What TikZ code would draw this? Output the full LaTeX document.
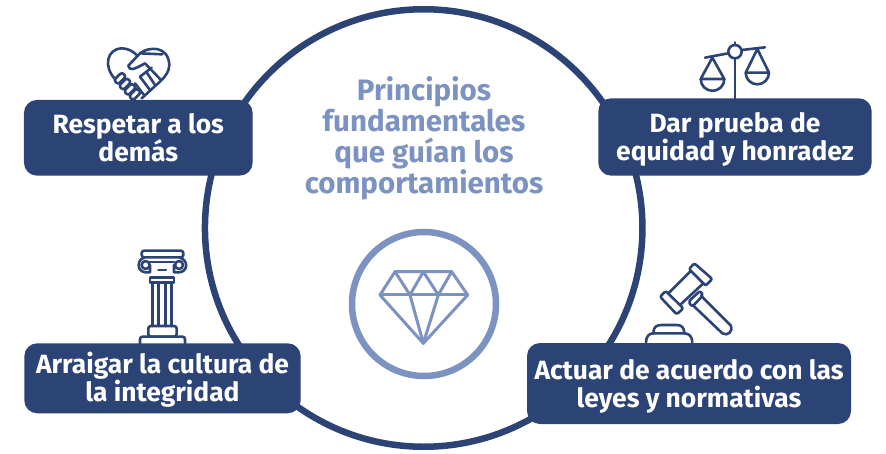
\documentclass[tikz,border=0pt]{standalone}
\usepackage{fontspec}
\setmainfont{Fira Sans}
\usetikzlibrary{positioning}
\definecolor{azul}{HTML}{2C4475}
\definecolor{celeste}{HTML}{7C92C0}
\tikzset{
    caja/.style={draw=none, fill=azul, rounded corners=13pt, text=white, align=center, font=\fontsize{26.4}{28}\selectfont\bfseries, inner sep=0pt,
        execute at begin node={\rule{0pt}{55pt}}, execute at end node={\rule[-8pt]{0pt}{1pt}}},
    icono/.style={draw=azul, line width=2.6pt, line join=round, line cap=round},
    joya/.style={draw=celeste, line width=3pt, line join=round, line cap=round},
}

\begin{document}
\begin{tikzpicture}[x=1pt, y=-1pt]
        \useasboundingbox (0, 0) rectangle (886, 453);
        \node[circle,draw=azul,line width=6.5pt,minimum size=437.5pt,inner sep=0pt] (anillo) at (423.7, 228) {};
        \node[circle,draw=celeste,line width=6.5pt,minimum size=144pt,inner sep=0pt] (gema) at (424, 304) {};
        \node[text=celeste,align=center,font=\fontsize{29.5}{31}\selectfont\bfseries] (titulo) at (424, 138) {Principios\\fundamentales\\que guían los\\comportamientos};
        \node[caja,minimum width=228.7pt,minimum height=75.7pt] (respetar) at (138.3, 137.8) {Respetar a los\\demás};
        \node[caja,minimum width=273.4pt,minimum height=77.4pt] (dar) at (735, 137) {Dar prueba de\\equidad y honradez};
        \node[caja,minimum width=276.4pt,minimum height=70pt] (arraigar) at (162.5, 378.3) {Arraigar la cultura de\\la integridad};
        \node[caja,minimum width=324pt,minimum height=81pt] (actuar) at (689, 383.5) {Actuar de acuerdo con las\\leyes y normativas};
        % diamante
        \begin{scope}[shift={(340, 225)}, scale=0.3333]
            \draw[joya] (165,140) -- (335,140) -- (383,210) -- (250,355) -- (120,210) -- cycle;
            \draw[joya] (120,210) -- (383,210);
            \draw[joya] (165,140) -- (210,210) -- (250,355) -- (295,210) -- (335,140);
            \draw[joya] (210,210) -- (250,140) -- (295,210);
        \end{scope}
        % manos
        \begin{scope}[shift={(90, 35)}, scale=0.3333]
            \draw[icono] (75,132) .. controls (40,95) and (50,42) .. (95,40) .. controls (115,40) and (130,50) .. (140,60);
            \draw[icono] (150,55) .. controls (175,35) and (235,30) .. (238,90) .. controls (238,110) and (225,125) .. (212,138) -- (155,190);
            \draw[icono] (217,58) -- (150,55) -- (115,92) .. controls (118,108) and (130,105) .. (165,85) -- (213,135);
            \draw[icono] (185,98) -- (150,125) (170,112) -- (195,150) (150,125) -- (180,165) (135,145) -- (162,180);
            \foreach \cx/\cy in {90/130, 105/147, 120/163, 135/178}
                \draw[icono, rotate around={45:(\cx,\cy)}, rounded corners=2.5pt] (\cx-17,\cy-9) rectangle (\cx+17,\cy+9);
        \end{scope}
        % balanza
        \begin{scope}[shift={(685, 35)}, scale=0.3333]
            \draw[icono] (150,50) circle (20);
            \draw[icono] (150,22) -- (150,30) (150,70) -- (150,190);
            \draw[icono] (60,68) -- (130,55) (170,45) -- (240,37);
            \draw[icono] (47,132) -- (82,68) -- (118,132) -- cycle;
            \draw[icono] (47,132) arc[start angle=180, end angle=0, radius=35.5];
            \draw[icono] (182,113) -- (217,42) -- (252,113) -- cycle;
            \draw[icono] (182,113) arc[start angle=180, end angle=0, radius=35];
        \end{scope}
        % columna
        \begin{scope}[shift={(120, 240)}, scale=0.3333]
            \draw[icono, rounded corners=2.5pt] (65,32) rectangle (190,52);
            \draw[icono] (77,75) circle (12) (177,75) circle (12);
            \draw[icono] (72,53) .. controls (50,60) and (50,95) .. (77,97) -- (90,97) -- (90,75) (180,53) .. controls (205,60) and (205,95) .. (177,97) -- (162,97) -- (162,75);
            \draw[icono] (90,66) -- (162,66) (115,90) -- (138,90);
            \draw[icono] (90,112) rectangle (162,128);
            \draw[icono] (98,128) -- (98,258) (155,128) -- (155,258) (116,128) -- (116,258) (137,128) -- (137,258);
            \draw[icono, rounded corners=2.5pt] (85,258) rectangle (170,290);
            \draw[icono, rounded corners=2.5pt] (60,312) -- (60,290) -- (195,290) -- (195,312);
        \end{scope}
        % mazo
        \begin{scope}[shift={(635, 255)}, scale=0.3333]
            \draw[icono, rounded corners=2pt] (92,108) -- (75,125) -- (125,178) -- (145,160) -- cycle;
            \draw[icono, rounded corners=2pt] (178,25) -- (162,42) -- (212,92) -- (232,72) -- cycle;
            \draw[icono] (100,115) -- (168,47) (135,150) -- (205,85);
            \draw[icono, rounded corners=2pt] (160,140) -- (195,108) -- (205,120) -- (172,155) -- cycle;
            \draw[icono] (198,122) -- (288,212) .. controls (295,228) and (278,245) .. (262,235) -- (176,153);
            \draw[icono] (55,235) .. controls (55,215) and (65,210) .. (80,210) -- (125,210) .. controls (140,210) and (148,218) .. (148,235);
            \draw[icono] (33,262) .. controls (33,245) and (42,235) .. (55,235) -- (148,235) .. controls (162,235) and (172,245) .. (172,262);
        \end{scope}
    \end{tikzpicture}
\end{document}
